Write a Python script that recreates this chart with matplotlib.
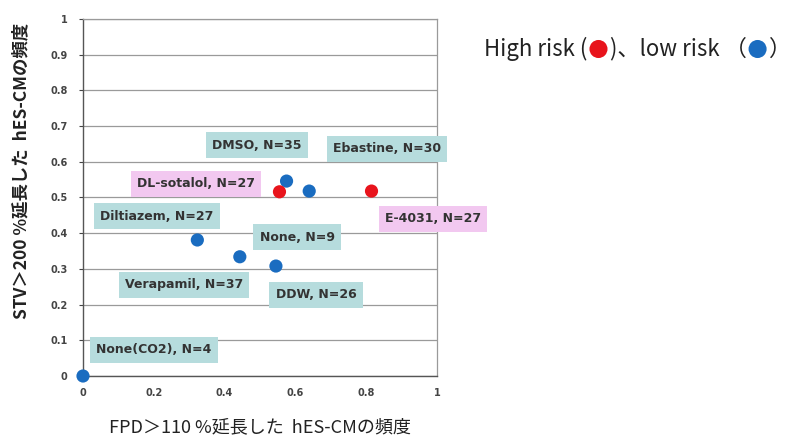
import matplotlib
matplotlib.use("Agg")
import matplotlib.pyplot as plt
from matplotlib.offsetbox import TextArea, HPacker, AnchoredOffsetbox, DrawingArea
from matplotlib.patches import Circle

plt.rcParams['font.family'] = ['Noto Sans CJK JP', 'DejaVu Sans']

# Data
names = ["None(CO2), N=4", "Diltiazem, N=27", "Verapamil, N=37", "DDW, N=26",
         "DMSO, N=35", "DL-sotalol, N=27", "Ebastine, N=30", "E-4031, N=27"]
fpd = [0.0, 0.323, 0.443, 0.545, 0.575, 0.555, 0.639, 0.815]
stv = [0.0, 0.381, 0.334, 0.308, 0.546, 0.516, 0.518, 0.518]
risk = ["low", "low", "low", "low", "low", "high", "low", "high"]

# Extra label without its own point (None, N=9)
extra_labels = ["None, N=9"]

label_pos = {
    "None(CO2), N=4": (0.201, 0.073),
    "Diltiazem, N=27": (0.209, 0.448),
    "Verapamil, N=37": (0.285, 0.255),
    "DDW, N=26": (0.658, 0.227),
    "DMSO, N=35": (0.492, 0.647),
    "DL-sotalol, N=27": (0.319, 0.538),
    "Ebastine, N=30": (0.859, 0.636),
    "E-4031, N=27": (0.989, 0.440),
    "None, N=9": (0.605, 0.389),
}

xticks = [0, 0.2, 0.4, 0.6, 0.8, 1]
xticklabels = ["0", "0.2", "0.4", "0.6", "0.8", "1"]
yticks = [0, 0.1, 0.2, 0.3, 0.4, 0.5, 0.6, 0.7, 0.8, 0.9, 1]
yticklabels = ["0", "0.1", "0.2", "0.3", "0.4", "0.5", "0.6", "0.7", "0.8", "0.9", "1"]

colors = {"high": "#e8141c", "low": "#1a6cc0"}
box_colors = {"high": "#f2c8f0", "low": "#b6dcdd"}

fig = plt.figure(figsize=(7.95, 4.38), dpi=100)
ax = fig.add_axes([83/795, 1-376/438, (437-83)/795, (376-19)/438])

ax.set_xlim(0, 1)
ax.set_ylim(0, 1)
ax.set_yticks(yticks)
ax.set_yticklabels(yticklabels)
ax.set_xticks(xticks)
ax.set_xticklabels(xticklabels)
ax.tick_params(axis='both', labelsize=7, colors='#444444', length=3, width=0.8)
for lab in ax.get_xticklabels() + ax.get_yticklabels():
    lab.set_fontweight('bold')
    lab.set_family(['DejaVu Sans'])
ax.tick_params(axis='x', length=0, pad=9)
ax.tick_params(axis='y', pad=8)

ax.grid(axis='y', color='#9a9a9a', linewidth=0.9)
ax.set_axisbelow(True)
for s in ['top', 'right']:
    ax.spines[s].set_color('#9a9a9a')
    ax.spines[s].set_linewidth(0.9)
for s in ['left', 'bottom']:
    ax.spines[s].set_color('#555555')
    ax.spines[s].set_linewidth(1.0)

for x, y, r in zip(fpd, stv, risk):
    ax.scatter(x, y, s=90, color=colors[r], zorder=5, clip_on=False, edgecolors='none')

all_names = names + extra_labels
name_risk = dict(zip(names, risk))
for n in all_names:
    r = name_risk.get(n, "low")
    px, py = label_pos[n]
    ax.text(px, py, n, ha='center', va='center', fontsize=9, fontweight='bold',
            color='#333333', family=['DejaVu Sans'],
            bbox=dict(boxstyle='square,pad=0.5', facecolor=box_colors[r], edgecolor='none'),
            clip_on=False, zorder=6)

ax.set_ylabel("STV＞200 %延長した  hES-CMの頻度", fontsize=12.5, fontweight='bold',
              color='#222222')
ax.yaxis.set_label_coords(-0.148, 0.574)
ax.set_xlabel("FPD＞110 %延長した  hES-CMの頻度", fontsize=13, color='#222222', labelpad=14)

# legend text
kw = dict(fontsize=16, color='#222222', family=['Noto Sans CJK JP'])


def dot(color):
    da = DrawingArea(14, 14, 0, 0)
    da.add_artist(Circle((7, 7), 6.5, facecolor=color, edgecolor='none'))
    return da


parts = [
    TextArea("High risk (", textprops=kw),
    dot(colors["high"]),
    TextArea(")、low risk （", textprops=kw),
    dot(colors["low"]),
    TextArea("）", textprops=kw),
]
box = HPacker(children=parts, align='center', pad=0, sep=1)
anch = AnchoredOffsetbox(loc='center left', child=box, frameon=False,
                         bbox_to_anchor=(484/795, 1-49/438), bbox_transform=fig.transFigure,
                         borderpad=0, pad=0)
fig.add_artist(anch)

fig.savefig("out.png", dpi=100, facecolor='white')
